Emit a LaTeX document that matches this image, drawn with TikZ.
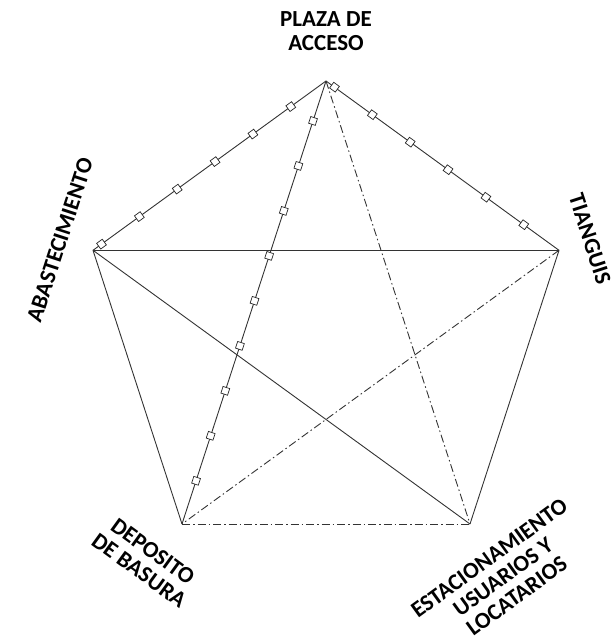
\documentclass[tikz,border=0pt]{standalone}
\usepackage{fontspec}
\setmainfont{Carlito}
\usetikzlibrary{decorations.markings}
\begin{document}
\begin{tikzpicture}[x=1pt,y=-1pt,
  edge/.style={draw=black!80, line width=0.9pt},
  dashdot/.style={edge, dash pattern=on 8pt off 3pt on 1.5pt off 3pt},
  sq/.style={draw=black!85, fill=white, line width=0.7pt, minimum size=7pt, inner sep=0pt, rectangle, transform shape},
  markedside/.style={edge, postaction={decorate}, decoration={markings, mark=between positions 10.5pt and 250pt step 46.8pt with {\node[sq]{};}}},
  markeddiag/.style={edge, postaction={decorate}, decoration={markings, mark=between positions 42pt and 430pt step 47.3pt with {\node[sq]{};}}},
  lbl/.style={font=\bfseries\fontsize{23}{23.5}\selectfont, align=center, inner sep=0pt, text=black}
]
\path[use as bounding box] (0,0) rectangle (615,643);
\coordinate (T) at (326,81);
\coordinate (L) at (93,250.3);
\coordinate (R) at (559,250.3);
\coordinate (BL) at (182,524);
\coordinate (BR) at (470,524);

\draw[edge] (L) -- (R);
\draw[edge] (L) -- (BL);
\draw[edge] (L) -- (BR);
\draw[edge] (R) -- (BR);
\draw[dashdot] (T) -- (BR);
\draw[dashdot] (R) -- (BL);
\draw[dashdot] (BL) -- (BR);
\draw[markedside] (L) -- (T);
\draw[markedside] (T) -- (R);
\draw[markeddiag] (T) -- (BL);

\node[lbl] (plaza) at (326,31) {PLAZA DE\\ACCESO};
\node[lbl, rotate=72] (abast) at (60,240) {ABASTECIMIENTO};
\node[lbl, rotate=-72] (tiang) at (590,239) {TIANGUIS};
\node[lbl, rotate=-36] (depo) at (146,561) {DEPOSITO\\DE BASURA};
\node[lbl, rotate=36] (estac) at (503,577) {ESTACIONAMIENTO\\USUARIOS Y\\LOCATARIOS};
\end{tikzpicture}
\end{document}
